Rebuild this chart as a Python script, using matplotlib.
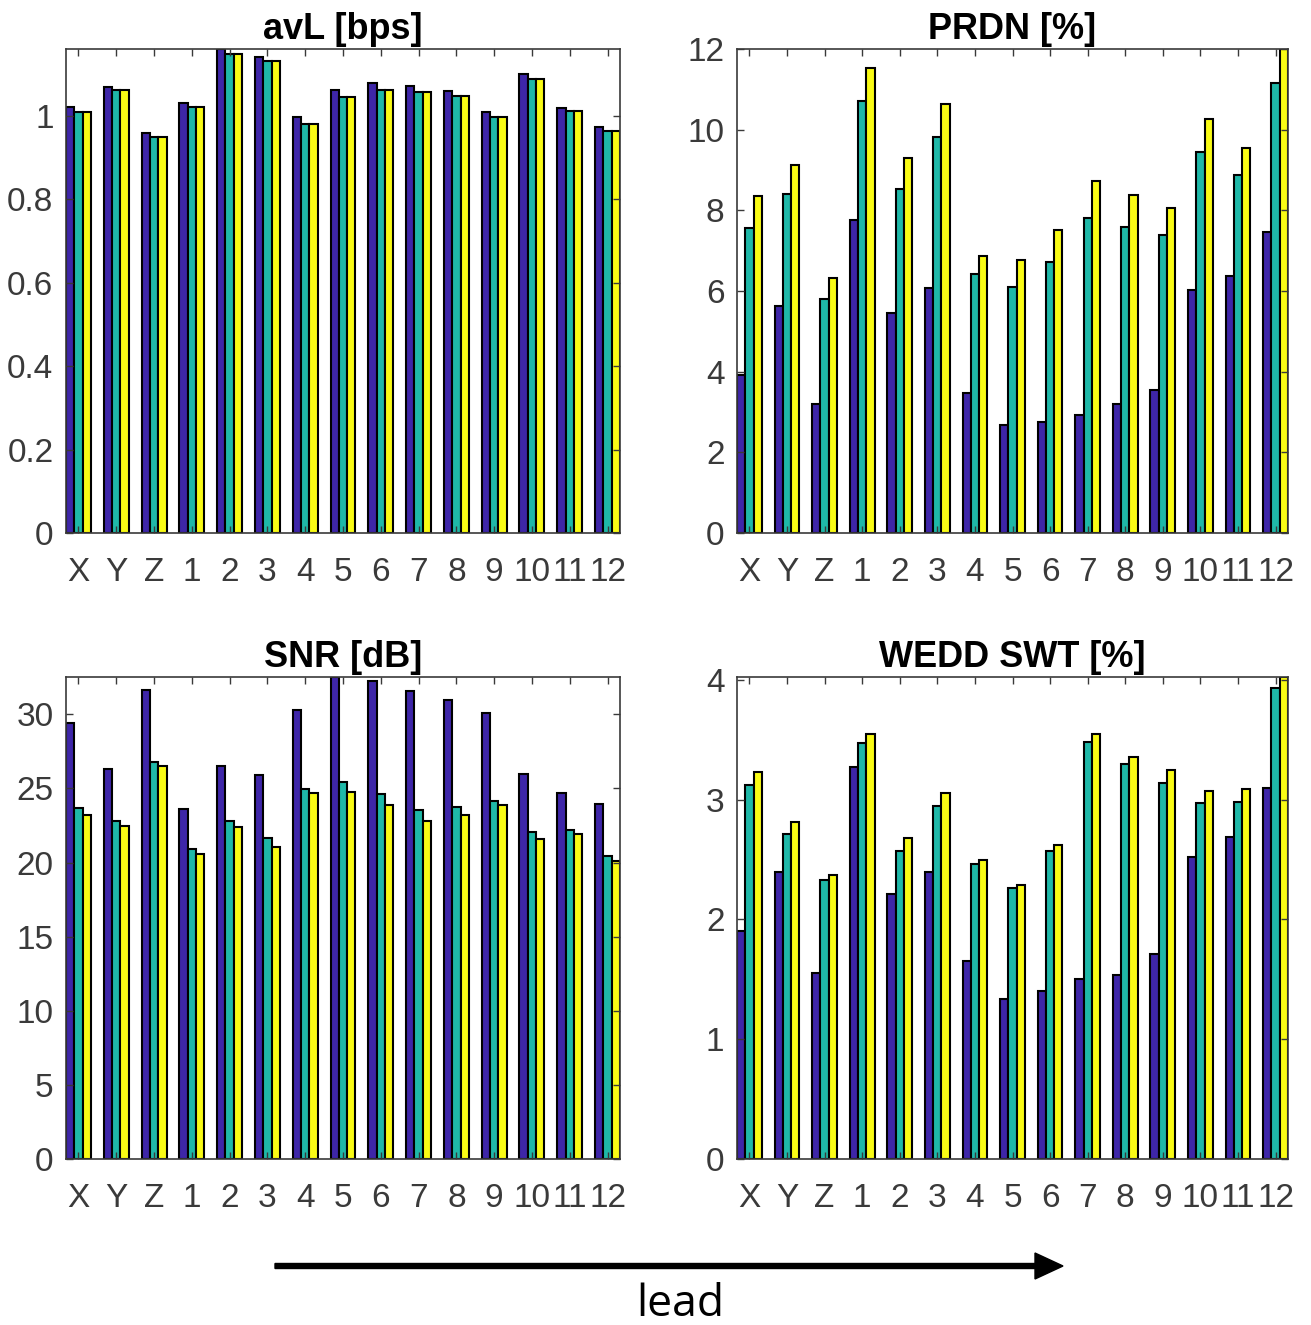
import numpy as np
import matplotlib
matplotlib.use("Agg")
import matplotlib.pyplot as plt

leads = ['X', 'Y', 'Z', '1', '2', '3', '4', '5', '6', '7', '8', '9', '10', '11', '12']

avl_1 = [1.020, 1.070, 0.959, 1.030, 1.160, 1.141, 0.997, 1.061, 1.079, 1.072, 1.059, 1.010, 1.099, 1.018, 0.974]
avl_2 = [1.009, 1.062, 0.948, 1.020, 1.148, 1.132, 0.981, 1.045, 1.062, 1.057, 1.047, 0.998, 1.089, 1.011, 0.964]
avl_3 = [1.009, 1.062, 0.948, 1.020, 1.148, 1.132, 0.981, 1.045, 1.062, 1.056, 1.047, 0.998, 1.089, 1.011, 0.964]

prdn_1 = [3.92, 5.62, 3.21, 7.75, 5.45, 6.07, 3.48, 2.69, 2.76, 2.93, 3.21, 3.54, 6.03, 6.38, 7.46]
prdn_2 = [7.57, 8.40, 5.79, 10.70, 8.52, 9.83, 6.41, 6.09, 6.72, 7.82, 7.59, 7.40, 9.45, 8.88, 11.15]
prdn_3 = [8.35, 9.13, 6.33, 11.54, 9.29, 10.63, 6.86, 6.76, 7.52, 8.72, 8.37, 8.05, 10.27, 9.55, 12.0]

snr_1 = [29.40, 26.28, 31.65, 23.60, 26.54, 25.90, 30.28, 32.52, 32.27, 31.60, 30.95, 30.10, 26.00, 24.71, 23.96]
snr_2 = [23.65, 22.78, 26.77, 20.89, 22.83, 21.64, 24.94, 25.41, 24.63, 23.52, 23.76, 24.14, 22.08, 22.23, 20.45]
snr_3 = [23.21, 22.44, 26.52, 20.58, 22.39, 21.07, 24.66, 24.77, 23.91, 22.83, 23.21, 23.88, 21.59, 21.90, 20.09]

wedd_1 = [1.90, 2.40, 1.55, 3.27, 2.21, 2.40, 1.65, 1.34, 1.40, 1.50, 1.54, 1.71, 2.52, 2.69, 3.10]
wedd_2 = [3.125, 2.71, 2.33, 3.47, 2.57, 2.95, 2.46, 2.26, 2.57, 3.48, 3.30, 3.14, 2.97, 2.98, 3.93]
wedd_3 = [3.23, 2.81, 2.37, 3.55, 2.68, 3.06, 2.50, 2.29, 2.62, 3.55, 3.36, 3.25, 3.07, 3.09, 4.025]

colors = ['#3E26A8', '#1FB8A8', '#F9FB15']
gray = '#3a3a3a'

W, H = 1311, 1325
fig = plt.figure(figsize=(W / 100, H / 100), dpi=100)
plt.rcParams['font.family'] = ['Liberation Sans', 'DejaVu Sans']


def px_axes(x0, y0, x1, y1):
    return fig.add_axes([x0 / W, 1 - y1 / H, (x1 - x0) / W, (y1 - y0) / H])


def bar_panel(ax, series, title, yticks, ylabels):
    x = np.arange(1, len(leads) + 1)
    w = 0.22
    for i, vals in enumerate(series):
        ax.bar(x + (i - 1) * w, vals, w, color=colors[i], edgecolor='black', linewidth=1.5)
    ax.set_xlim(1 - 1.5 * w, len(leads) + 1.5 * w)
    ax.set_ylim(0, max(max(s) for s in series))
    ax.set_xticks(x)
    ax.set_xticklabels(leads)
    ax.set_yticks(yticks)
    ax.set_yticklabels(ylabels)
    ax.tick_params(direction='in', length=5, width=1, colors=gray, labelsize=24,
                   top=True, right=True)
    ax.tick_params(axis='x', pad=17)
    ax.tick_params(axis='y', pad=9)
    for sp in ax.spines.values():
        sp.set_color(gray)
        sp.set_linewidth(1.2)
    ax.set_title(title, fontsize=26, fontweight='bold', pad=7)


ax1 = px_axes(66, 49, 620, 533)
bar_panel(ax1, [avl_1, avl_2, avl_3], 'avL [bps]',
          [0, 0.2, 0.4, 0.6, 0.8, 1.0], ['0', '0.2', '0.4', '0.6', '0.8', '1'])

ax2 = px_axes(737, 49, 1288, 533)
bar_panel(ax2, [prdn_1, prdn_2, prdn_3], 'PRDN [%]',
          [0, 2, 4, 6, 8, 10, 12], ['0', '2', '4', '6', '8', '10', '12'])

ax3 = px_axes(66, 677, 620, 1159)
bar_panel(ax3, [snr_1, snr_2, snr_3], 'SNR [dB]',
          [0, 5, 10, 15, 20, 25, 30], ['0', '5', '10', '15', '20', '25', '30'])

ax4 = px_axes(737, 677, 1288, 1159)
bar_panel(ax4, [wedd_1, wedd_2, wedd_3], 'WEDD SWT [%]',
          [0, 1, 2, 3, 4], ['0', '1', '2', '3', '4'])

# arrow + label below the panels
fig.add_artist(matplotlib.patches.FancyArrow(
    275 / W, 1 - 1266 / H, (1035 - 275) / W, 0,
    width=5 / H, head_width=26 / H, head_length=28 / W,
    length_includes_head=False, color='black', transform=fig.transFigure))
fig.text(680 / W, 1 - 1305 / H, 'lead', fontsize=32, ha='center', va='center',
         family=['Open Sans', 'DejaVu Sans'])

fig.savefig('out.png', dpi=100)
